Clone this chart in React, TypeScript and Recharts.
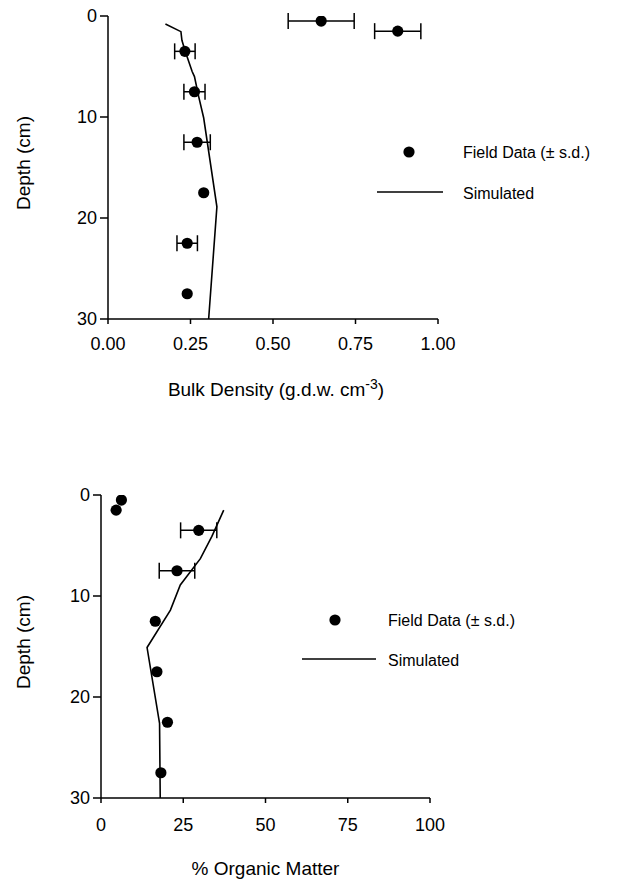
import React from 'react';
import { ScatterChart, Scatter, XAxis, YAxis, ErrorBar, Label } from 'recharts';

const FONT = '"Liberation Sans", Arial, Helvetica, sans-serif';

// Bulk density – field data
const bdDepth = [0.5, 1.5, 3.5, 7.5, 12.5, 17.5, 22.5, 27.5];
const bdValue = [0.646, 0.878, 0.233, 0.262, 0.27, 0.29, 0.24, 0.24];
const bdSd = [0.1, 0.07, 0.031, 0.032, 0.04, 0, 0.031, 0];
// Bulk density – simulated
const bdSimDepth = [0.8, 1.55, 2.4, 3.5, 5.5, 6.0, 8.0, 10.1, 18.9, 30];
const bdSimValue = [0.174, 0.221, 0.224, 0.234, 0.255, 0.262, 0.275, 0.29, 0.33, 0.305];
const bdTicks = [0, 0.25, 0.5, 0.75, 1];

// Organic matter – field data
const omDepth = [0.5, 1.5, 3.5, 7.5, 12.5, 17.5, 22.5, 27.5];
const omValue = [6.2, 4.6, 29.7, 23.1, 16.5, 17.0, 20.2, 18.2];
const omSd = [0, 0, 5.5, 5.4, 0, 0, 0, 0];
// Organic matter – simulated
const omSimDepth = [1.5, 4.1, 6.3, 8.9, 11.4, 15.1, 22.6, 30];
const omSimValue = [37.3, 33.7, 30.2, 24.1, 21.1, 14.0, 17.8, 18.0];
const omTicks = [0, 25, 50, 75, 100];

const depthTicks = [0, 10, 20, 30];

const legendLabels = ['Field Data (\u00b1 s.d.)', 'Simulated'];

const bdField = bdDepth.map((d, i) => ({ x: bdValue[i], y: d, sd: bdSd[i] }));
const bdSim = bdSimDepth.map((d, i) => ({ x: bdSimValue[i], y: d }));
const omField = omDepth.map((d, i) => ({ x: omValue[i], y: d, sd: omSd[i] }));
const omSim = omSimDepth.map((d, i) => ({ x: omSimValue[i], y: d }));

const Dot = (p: any) => <circle cx={p.cx} cy={p.cy} r={5.6} fill="#000" />;
const NoShape = () => <g />;

const tickStyle = { fill: '#000', fontSize: 18, fontFamily: FONT };

const DepthTitle = (p: any) => {
  const vb = p.viewBox || { x: 0, y: 0, width: 0, height: 0 };
  const cx = 30;
  const cy = vb.y + vb.height / 2 - 4.5;
  return (
    <text
      x={cx}
      y={cy}
      transform={`rotate(-90, ${cx}, ${cy})`}
      textAnchor="middle"
      fontFamily={FONT}
      fontSize={19}
      fill="#000"
    >
      Depth (cm)
    </text>
  );
};

const BulkTitle = (p: any) => {
  const vb = p.viewBox || { x: 0, y: 0, width: 0, height: 0 };
  return (
    <text
      x={vb.x + vb.width / 2 + 3}
      y={vb.y + 77}
      textAnchor="middle"
      fontFamily={FONT}
      fontSize={19}
      fill="#000"
    >
      Bulk Density (g.d.w. cm
      <tspan dy={-7} fontSize={14}>-3</tspan>
      <tspan dy={7}>)</tspan>
    </text>
  );
};

const OmTitle = (p: any) => {
  const vb = p.viewBox || { x: 0, y: 0, width: 0, height: 0 };
  return (
    <text
      x={vb.x + vb.width / 2}
      y={vb.y + 77}
      textAnchor="middle"
      fontFamily={FONT}
      fontSize={19}
      fill="#000"
    >
      % Organic Matter
    </text>
  );
};

const LegendBox = ({ dotX, dotY, lineX1, lineX2, lineY, textX }: any) => (
  <g fontFamily={FONT} fontSize={16} fill="#000">
    <circle cx={dotX} cy={dotY} r={5.6} fill="#000" />
    <text x={textX} y={dotY} dominantBaseline="central">{legendLabels[0]}</text>
    <line x1={lineX1} x2={lineX2} y1={lineY} y2={lineY} stroke="#000" strokeWidth={1.6} />
    <text x={textX} y={lineY + 1} dominantBaseline="central">{legendLabels[1]}</text>
  </g>
);

export default function App() {
  return (
    <div style={{ position: 'absolute', left: 0, top: 0, width: 623, height: 880, background: '#fff' }}>
      <div style={{ position: 'absolute', left: 0, top: 0 }}>
        <ScatterChart width={623} height={440} margin={{ top: 16, right: 185, bottom: 91, left: 0 }}>
          <XAxis
            type="number"
            dataKey="x"
            domain={[0, 1]}
            ticks={bdTicks}
            tickFormatter={(v: number) => v.toFixed(2)}
            height={30}
            tickSize={5}
            tickMargin={13}
            tick={tickStyle}
            axisLine={{ stroke: '#000', strokeWidth: 1.5 }}
            tickLine={{ stroke: '#000', strokeWidth: 1.5 }}
            allowDataOverflow
          >
            <Label content={BulkTitle} />
          </XAxis>
          <YAxis
            type="number"
            dataKey="y"
            domain={[0, 30]}
            reversed
            ticks={depthTicks}
            width={108}
            tickSize={8}
            tickMargin={3}
            tick={tickStyle}
            axisLine={{ stroke: '#000', strokeWidth: 1.5 }}
            tickLine={{ stroke: '#000', strokeWidth: 1.5 }}
            allowDataOverflow
          >
            <Label content={DepthTitle} />
          </YAxis>
          <Scatter
            data={bdSim}
            line={{ stroke: '#000', strokeWidth: 1.6 }}
            shape={NoShape}
            legendType="none"
            isAnimationActive={false}
          />
          <Scatter data={bdField} shape={Dot} legendType="none" isAnimationActive={false}>
            <ErrorBar dataKey="sd" direction="x" width={8} stroke="#000" strokeWidth={1.5} isAnimationActive={false} />
          </Scatter>
        </ScatterChart>
      </div>
      <div style={{ position: 'absolute', left: 0, top: 440 }}>
        <ScatterChart width={623} height={440} margin={{ top: 55, right: 193, bottom: 52, left: 0 }}>
          <XAxis
            type="number"
            dataKey="x"
            domain={[0, 100]}
            ticks={omTicks}
            height={30}
            tickSize={5}
            tickMargin={15}
            tick={tickStyle}
            axisLine={{ stroke: '#000', strokeWidth: 1.5 }}
            tickLine={{ stroke: '#000', strokeWidth: 1.5 }}
            allowDataOverflow
          >
            <Label content={OmTitle} />
          </XAxis>
          <YAxis
            type="number"
            dataKey="y"
            domain={[0, 30]}
            reversed
            ticks={depthTicks}
            width={101}
            tickSize={8}
            tickMargin={3}
            tick={tickStyle}
            axisLine={{ stroke: '#000', strokeWidth: 1.5 }}
            tickLine={{ stroke: '#000', strokeWidth: 1.5 }}
            allowDataOverflow
          >
            <Label content={DepthTitle} />
          </YAxis>
          <Scatter
            data={omSim}
            line={{ stroke: '#000', strokeWidth: 1.6 }}
            shape={NoShape}
            legendType="none"
            isAnimationActive={false}
          />
          <Scatter data={omField} shape={Dot} legendType="none" isAnimationActive={false}>
            <ErrorBar dataKey="sd" direction="x" width={8} stroke="#000" strokeWidth={1.5} isAnimationActive={false} />
          </Scatter>
        </ScatterChart>
      </div>
      <svg
        width={623}
        height={880}
        style={{ position: 'absolute', left: 0, top: 0, pointerEvents: 'none' }}
      >
        <LegendBox dotX={409} dotY={152} lineX1={377} lineX2={443} lineY={192} textX={463} />
        <LegendBox dotX={335} dotY={620} lineX1={302} lineX2={376} lineY={659} textX={388} />
      </svg>
    </div>
  );
}
